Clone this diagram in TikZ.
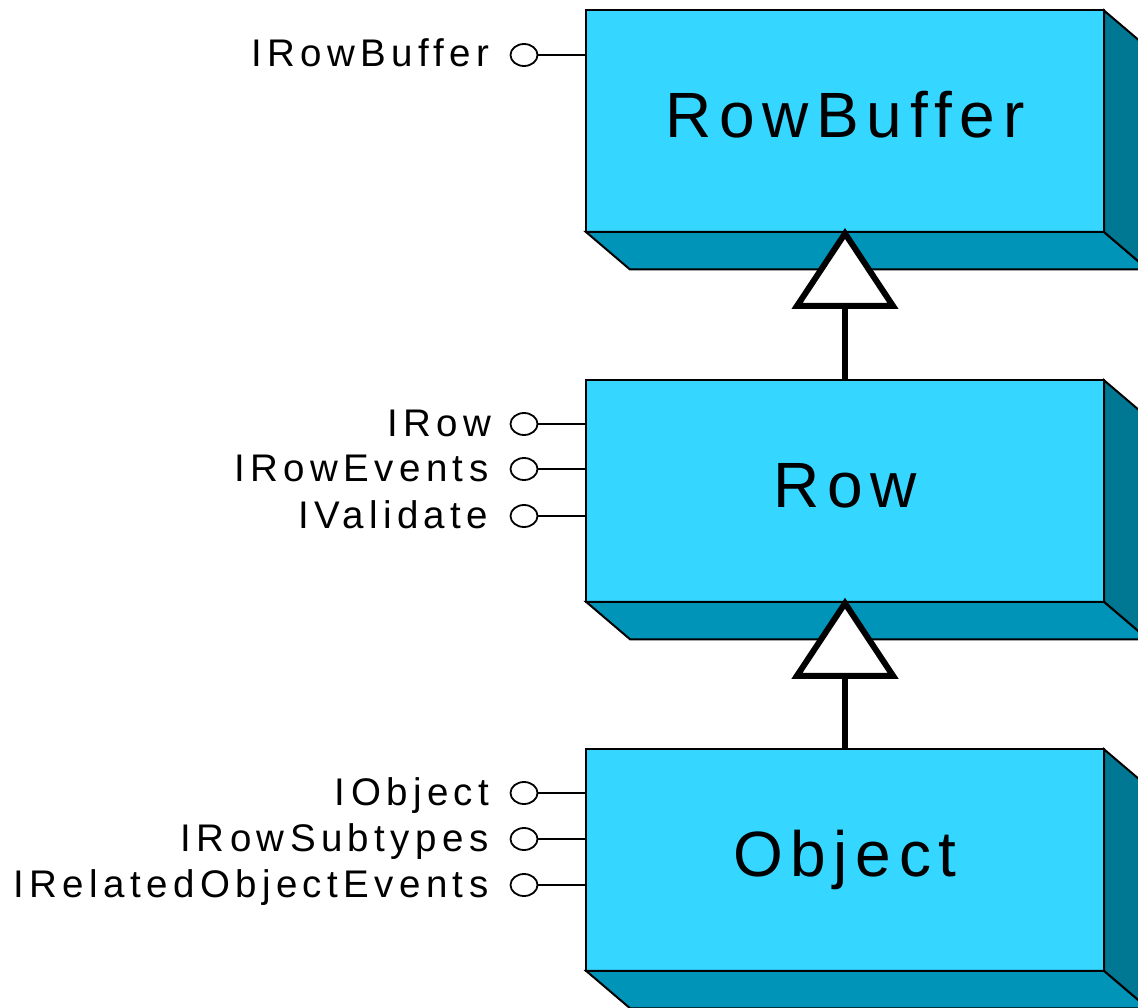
\documentclass[tikz,border=0pt]{standalone}
\usepackage{fontspec}
\setmainfont{Liberation Sans}
\newfontfamily\ifacefont[LetterSpace=14]{Liberation Sans}
\newfontfamily\classfont[LetterSpace=12]{Liberation Sans}
\usetikzlibrary{calc,shapes.geometric}
\definecolor{frontcol}{RGB}{53,214,255}
\definecolor{bottomcol}{RGB}{0,148,185}
\definecolor{sidecol}{RGB}{0,120,148}

\begin{document}
\begin{tikzpicture}[x=1pt,y=-1pt,
  classbox/.style={rectangle, draw=black, line width=2pt, fill=frontcol,
    minimum width=518pt, minimum height=221.5pt, inner sep=0pt, outer sep=0pt,
    font=\classfont\fontsize{64}{64}\selectfont, text height=46pt, text depth=12.6pt},
  face/.style={draw=black, line width=2pt, line join=miter},
  lolli/.style={ellipse, draw=black, line width=1.8pt, fill=white,
    minimum width=27pt, minimum height=22pt, inner sep=0pt, outer sep=0pt},
  iface/.style={anchor=base east, inner sep=0pt,
    font=\ifacefont\fontsize{38.5}{38.5}\selectfont},
  ifline/.style={draw=black, line width=1.5pt},
  inherit/.style={draw=black, line width=6pt},
  inhead/.style={draw=black, line width=6pt, fill=white, line join=miter}
]
\path[use as bounding box] (0,0) rectangle (1138,1008);
\clip (0,0) rectangle (1138,1008);

% class boxes (front faces)
\node[classbox] (rb)  at (845,121.25) {RowBuffer};
\node[classbox] (row) at (845,491)    {Row};
\node[classbox] (obj) at (845,860)    {Object};

% bottom and side faces of each box
\foreach \b in {rb,row,obj}{
  \path[face, fill=bottomcol] (\b.south west) -- ($(\b.south west)+(44,37.5)$)
    -- ($(\b.south east)+(44,37.5)$) -- (\b.south east) -- cycle;
  \path[face, fill=sidecol] (\b.north east) -- ($(\b.north east)+(44,37.5)$)
    -- ($(\b.south east)+(44,37.5)$) -- (\b.south east) -- cycle;
}

% interface lollipops
\node[lolli] (i1) at (524,55)  {};
\node[lolli] (i2) at (524,424) {};
\node[lolli] (i3) at (524,469) {};
\node[lolli] (i4) at (524,516) {};
\node[lolli] (i5) at (524,793) {};
\node[lolli] (i6) at (524,839) {};
\node[lolli] (i7) at (524,885) {};

\draw[ifline] (i1.east) -- (i1.east -| rb.west);
\draw[ifline] (i2.east) -- (i2.east -| row.west);
\draw[ifline] (i3.east) -- (i3.east -| row.west);
\draw[ifline] (i4.east) -- (i4.east -| row.west);
\draw[ifline] (i5.east) -- (i5.east -| obj.west);
\draw[ifline] (i6.east) -- (i6.east -| obj.west);
\draw[ifline] (i7.east) -- (i7.east -| obj.west);

% interface names
\node[iface] (n1) at ($(i1.west)+(-21,12)$) {IRowBuffer};
\node[iface] (n2) at ($(i2.west)+(-19,12)$) {IRow};
\node[iface] (n3) at ($(i3.west)+(-22,12)$) {IRowEvents};
\node[iface] (n4) at ($(i4.west)+(-22,12)$) {IValidate};
\node[iface] (n5) at ($(i5.west)+(-21,12)$) {IObject};
\node[iface] (n6) at ($(i6.west)+(-22,12)$) {IRowSubtypes};
\node[iface] (n7) at ($(i7.west)+(-22,12)$) {IRelatedObjectEvents};

% generalisation: Row -> RowBuffer, Object -> Row
\foreach \child/\parent in {row/rb, obj/row}{
  \draw[inherit] (\child.north) -- ($(\parent.south)+(0,74)$);
  \path[inhead] ($(\parent.south)+(0,1.5)$) -- ($(\parent.south)+(-48,74)$)
    -- ($(\parent.south)+(48,74)$) -- cycle;
}
\end{tikzpicture}
\end{document}
